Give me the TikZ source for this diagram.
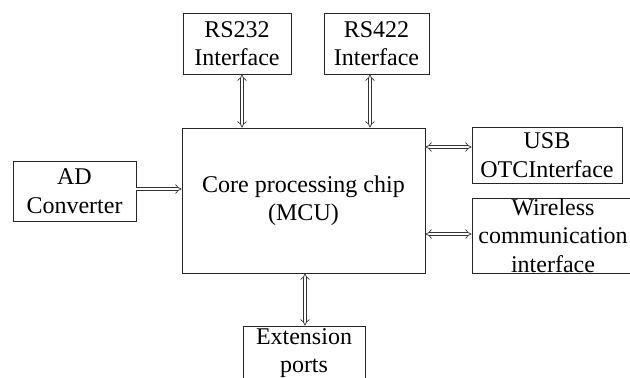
\documentclass[tikz,border=0pt]{standalone}
\usepackage{fontspec}
\setmainfont{Liberation Serif}
\usetikzlibrary{arrows.meta}
\begin{document}
\begin{tikzpicture}[x=1pt,y=-1pt,
  box/.style={draw=black!85, line width=0.8pt, rectangle, inner sep=0pt, align=center,
    font=\fontsize{24}{28.5}\selectfont},
  dbl/.style={draw=black!80, line width=0.7pt, double=white, double distance=2.6pt, {Implies}-{Implies}},
  dbr/.style={draw=black!80, line width=0.7pt, double=white, double distance=2.6pt, -{Implies}}]
\useasboundingbox (0,0) rectangle (630,378);
\clip (0,0) rectangle (630,378);
\node[box, minimum width=243pt, minimum height=145pt] (core) at (303.5,200.5) {Core processing chip\\(MCU)};
\node[box, minimum width=108pt, minimum height=61pt] (rs232) at (237,43.5) {RS232\\Interface};
\node[box, minimum width=105pt, minimum height=61pt] (rs422) at (376.5,43.5) {RS422\\Interface};
\node[box, minimum width=150pt, minimum height=56pt] (usb) at (547,155) {USB\\OTCInterface};
\node[box, minimum width=162pt, minimum height=75pt] (wl) at (553,235.5) {Wireless\\communication\\interface};
\node[box, minimum width=123pt, minimum height=60pt] (ad) at (74.5,191) {AD\\Converter};
\node[box, minimum width=122pt, minimum height=54pt] (ext) at (304,353) {Extension\\ports};
\draw[dbl] ([xshift=5pt]rs232.south) -- ([xshift=5pt]rs232.south |- core.north);
\draw[dbl] ([xshift=-6.5pt]rs422.south) -- ([xshift=-6.5pt]rs422.south |- core.north);
\draw[dbl] ([yshift=8pt]usb.west -| core.east) -- ([yshift=8pt]usb.west);
\draw[dbl] ([yshift=1.5pt]wl.west -| core.east) -- ([yshift=1.5pt]wl.west);
\draw[dbr] ([yshift=2pt]ad.east) -- ([yshift=2pt]ad.east -| core.west);
\draw[dbl] ([xshift=1pt]ext.north |- core.south) -- ([xshift=1pt]ext.north);
\end{tikzpicture}
\end{document}
